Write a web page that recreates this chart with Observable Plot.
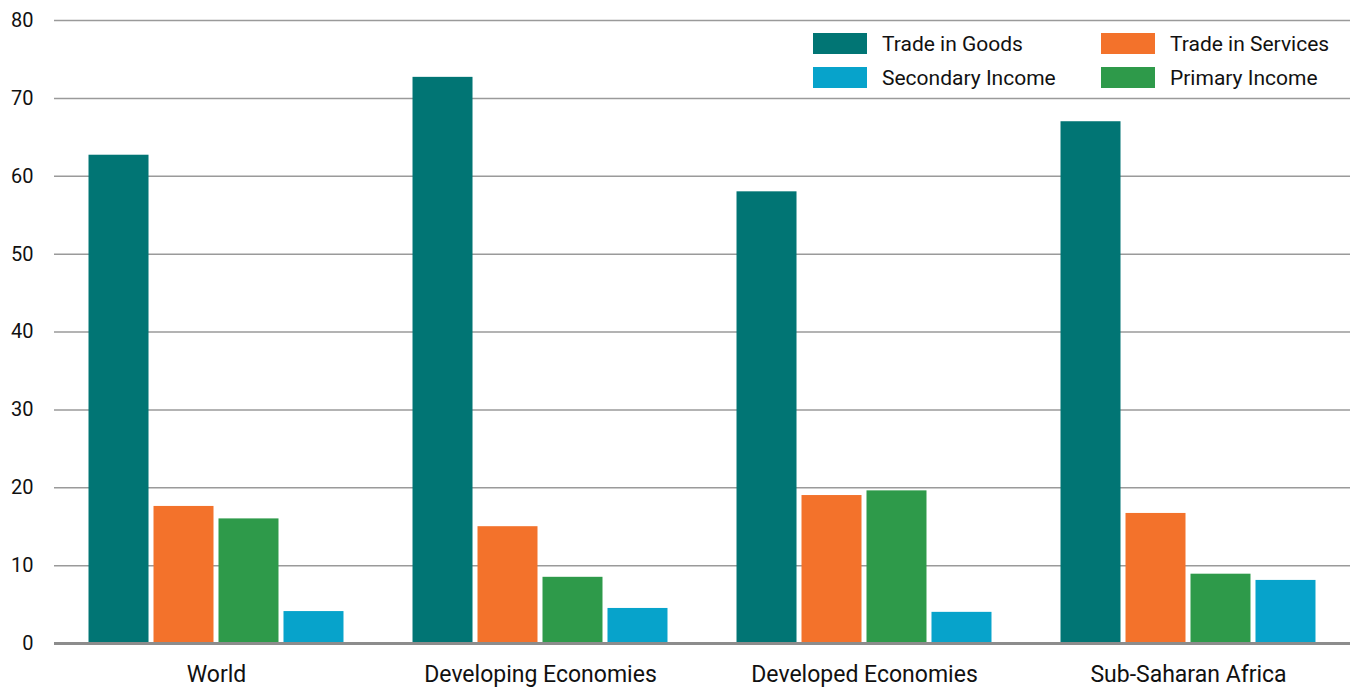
<!DOCTYPE html>
<html>
<head>
<meta charset="utf-8">
<script src="https://cdn.jsdelivr.net/npm/d3@7"></script>
<script src="https://cdn.jsdelivr.net/npm/@observablehq/plot@0.6"></script>
<style>
  html, body { margin: 0; padding: 0; background: #fff; }
  #wrap { position: relative; width: 1350px; height: 692px; font-family: Roboto, sans-serif; }
  #legend { position: absolute; left: 813px; top: 33px; width: 537px; display: grid; grid-template-columns: 288px 249px; row-gap: 13px; font-size: 21px; color: #111; white-space: nowrap; }
  .item { display: flex; align-items: center; height: 21px; }
  .sw { width: 54px; height: 21px; margin-right: 15px; flex: none; }
</style>
</head>
<body>
<div id="wrap"><div id="legend"></div></div>
<script>
const regions = ["World", "Developing Economies", "Developed Economies", "Sub-Saharan Africa"];
const series = ["Trade in Goods", "Trade in Services", "Primary Income", "Secondary Income"];
const colors = ["#017574", "#F3722B", "#2E9A4A", "#07A3CB"];
const goods = [62.7, 72.7, 58.0, 67.0];
const services = [17.6, 15.0, 19.0, 16.7];
const primary = [16.0, 8.5, 19.6, 8.9];
const secondary = [4.1, 4.5, 4.0, 8.1];
const yTicks = [0, 10, 20, 30, 40, 50, 60, 70, 80];
const legendOrder = ["Trade in Goods", "Trade in Services", "Secondary Income", "Primary Income"];

const seriesValues = [goods, services, primary, secondary];
const data = [];
regions.forEach((r, i) => series.forEach((s, j) => data.push({region: r, series: s, value: seriesValues[j][i]})));

const chart = Plot.plot({
  width: 1350,
  height: 692,
  marginLeft: 54,
  marginRight: 0,
  marginTop: 20,
  marginBottom: 49,
  style: {fontFamily: "Roboto, sans-serif", fontSize: "20px", color: "#111", background: "#fff"},
  fx: {domain: regions, paddingInner: 0, paddingOuter: 0, round: false, label: null, tickSize: 0, tickPadding: 22, axis: "bottom"},
  x: {domain: series, paddingInner: 5/65, paddingOuter: 0.531, round: false, axis: null},
  y: {domain: [0, 80], ticks: yTicks, label: null, tickSize: 0, tickPadding: 21},
  color: {domain: series, range: colors},
  marks: [
    Plot.ruleY(yTicks.filter(d => d > 0), {stroke: "#9a9a9a", strokeWidth: 1.5}),
    Plot.barY(data, {fx: "region", x: "series", y: "value", fill: "series"}),
    Plot.ruleY([0], {stroke: "#8c8c8c", strokeWidth: 3})
  ]
});
chart.querySelectorAll("text").forEach(t => {
  if (regions.includes(t.textContent.trim())) t.setAttribute("font-size", "23px"), t.style.fontSize = "23px";
});
document.getElementById("wrap").prepend(chart);

const legend = document.getElementById("legend");
legendOrder.forEach(s => {
  const item = document.createElement("div");
  item.className = "item";
  const sw = document.createElement("span");
  sw.className = "sw";
  sw.style.background = colors[series.indexOf(s)];
  const lab = document.createElement("span");
  lab.textContent = s;
  item.append(sw, lab);
  legend.append(item);
});
</script>
</body>
</html>
